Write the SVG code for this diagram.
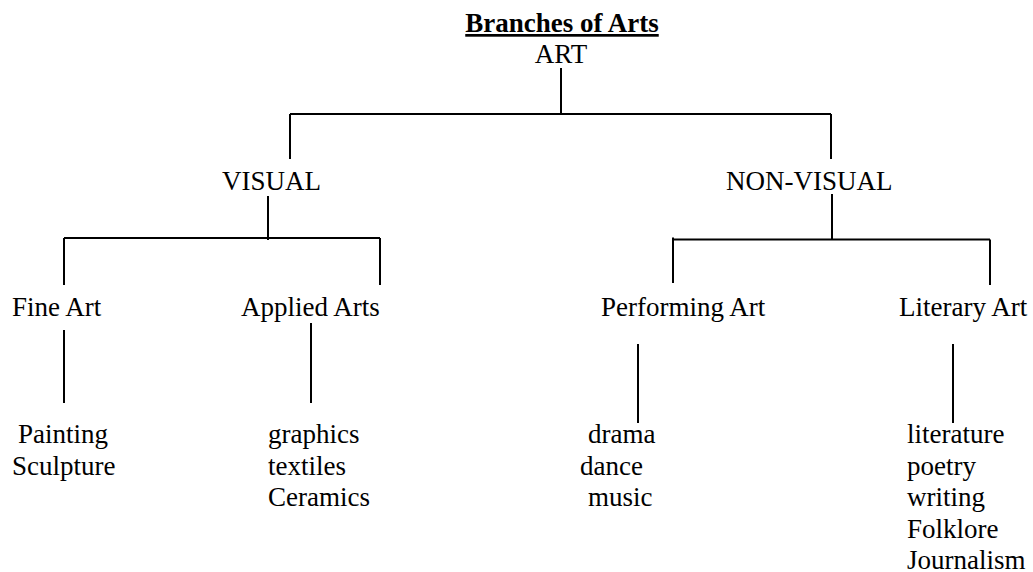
<svg xmlns="http://www.w3.org/2000/svg" width="1033" height="572" viewBox="0 0 1033 572" font-family="'Liberation Serif', 'Times New Roman', Tinos, 'DejaVu Serif', serif" font-size="27">
<style>
text{font-family:'Liberation Serif','Times New Roman',Tinos,'DejaVu Serif',serif;font-size:27px;fill:#000}
.title{font-weight:bold;text-decoration:underline}
.c line{stroke:#000;stroke-width:2;fill:none}
</style>
<rect width="1033" height="572" fill="#fff"/>
<g id="title"><text class="title" x="562" y="32" text-anchor="middle">Branches of Arts</text></g>
<g id="art"><text x="561" y="63" text-anchor="middle">ART</text></g>
<g id="visual"><text x="222" y="190">VISUAL</text></g>
<g id="non-visual"><text x="726" y="190">NON-VISUAL</text></g>
<g id="fine-art"><text x="12" y="316">Fine Art</text></g>
<g id="applied-arts"><text x="241" y="316">Applied Arts</text></g>
<g id="performing-art"><text x="601" y="316">Performing Art</text></g>
<g id="literary-art"><text x="899" y="316">Literary Art</text></g>
<g id="fine-art-items">
<text x="18" y="443">Painting</text>
<text x="12" y="474.5">Sculpture</text>
</g>
<g id="applied-arts-items">
<text x="268" y="443">graphics</text>
<text x="268" y="474.5">textiles</text>
<text x="268" y="506">Ceramics</text>
</g>
<g id="performing-art-items">
<text x="588" y="443">drama</text>
<text x="580" y="474.5">dance</text>
<text x="588" y="506">music</text>
</g>
<g id="literary-art-items">
<text x="907" y="443">literature</text>
<text x="907" y="474.5">poetry</text>
<text x="907" y="506">writing</text>
<text x="907" y="537.5">Folklore</text>
<text x="907" y="569">Journalism</text>
</g>
<g id="connectors" class="c">
<line x1="561" y1="68" x2="561" y2="114"/>
<line x1="290" y1="114" x2="831" y2="114"/>
<line x1="290" y1="114" x2="290" y2="159"/>
<line x1="831" y1="114" x2="831" y2="159"/>
<line x1="268" y1="196" x2="268" y2="240"/>
<line x1="64" y1="238" x2="380" y2="238"/>
<line x1="64" y1="238" x2="64" y2="285"/>
<line x1="380" y1="238" x2="380" y2="285"/>
<line x1="64" y1="330" x2="64" y2="403"/>
<line x1="311" y1="323" x2="311" y2="403"/>
<line x1="832" y1="194" x2="832" y2="239.5"/>
<line x1="673" y1="239.5" x2="990" y2="239.5"/>
<line x1="673" y1="237.5" x2="673" y2="283"/>
<line x1="990" y1="239.5" x2="990" y2="285"/>
<line x1="638" y1="344" x2="638" y2="423"/>
<line x1="953" y1="344" x2="953" y2="423"/>
</g>
</svg>
